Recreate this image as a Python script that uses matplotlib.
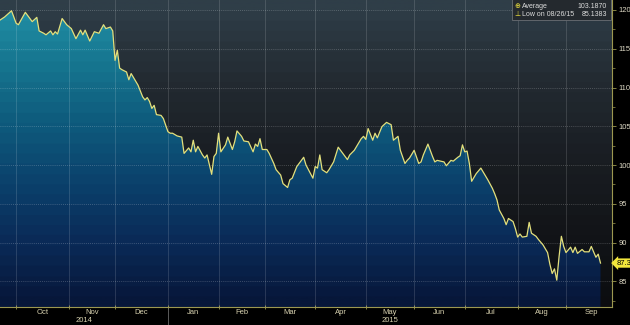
import numpy as np
import matplotlib
matplotlib.use('Agg')
import matplotlib.pyplot as plt
import matplotlib.transforms as mtransforms
from matplotlib.colors import LinearSegmentedColormap

plt.rcParams['font.family'] = ['Liberation Sans', 'DejaVu Sans']

# trading sessions counted from the first session shown (2014-09-22)
first_session = '2014-09-22'
session = [0, 2, 5, 7, 8, 11, 13, 14, 16, 17, 19, 20, 22, 23, 24, 25, 27, 29, 31, 33,
           35, 36, 37, 39, 41, 43, 45, 46, 48, 49, 50, 51, 52, 53, 55, 56, 57, 59, 60, 62,
           63, 64, 65, 66, 67, 68, 70, 71, 73, 74, 75, 77, 79, 80, 82, 83, 84, 85, 86, 88,
           89, 90, 92, 93, 94, 95, 96, 98, 99, 101, 102, 103, 105, 106, 108, 110, 111, 112, 113, 114,
           116, 117, 119, 120, 122, 123, 125, 126, 127, 129, 130, 132, 133, 136, 137, 138, 139, 140, 142, 143,
           145, 147, 149, 151, 152, 154, 157, 158, 159, 160, 162, 163, 164, 166, 168, 170, 171, 173, 174, 176,
           177, 178, 180, 182, 183, 184, 186, 188, 189, 190, 193, 194, 196, 197, 199, 200, 201, 202, 203, 204,
           205, 207, 209, 210, 212, 214, 215, 216, 217, 219, 220, 221, 223, 224, 225, 226, 227, 229, 230, 231,
           233, 234, 236, 238, 239, 240, 241, 242, 243, 244, 245, 246, 248, 249, 250, 251, 253, 254, 256, 257,
           258, 259, 260, 261]
price = [118.7, 119.1, 119.9, 118.3, 118.1, 119.7, 118.9, 118.5, 119.05, 117.3, 117.0, 116.8, 117.3, 116.8, 117.2, 116.9, 118.9, 118.1, 117.6, 116.3,
         117.4, 116.8, 117.4, 116.0, 117.2, 117.0, 118.1, 117.6, 117.8, 117.3, 113.5, 114.8, 112.5, 112.3, 112.0, 111.0, 111.8, 110.8, 110.3, 108.8,
         108.4, 108.7, 108.2, 107.3, 107.7, 106.5, 106.4, 106.0, 104.3, 104.1, 104.1, 103.75, 103.6, 101.5, 102.2, 101.7, 103.2, 101.7, 102.4, 101.3,
         100.9, 101.3, 98.8, 101.1, 101.5, 104.1, 101.7, 102.6, 103.6, 102.0, 103.0, 104.4, 103.7, 103.1, 103.0, 101.7, 102.7, 102.4, 103.4, 102.0,
         102.0, 101.5, 100.2, 99.4, 98.7, 97.6, 97.1, 98.1, 98.3, 99.8, 100.2, 101.0, 100.0, 98.3, 99.8, 99.6, 101.3, 99.4, 99.0, 99.4,
         100.4, 102.3, 101.5, 100.7, 101.3, 101.9, 103.4, 103.7, 103.3, 104.7, 103.2, 104.1, 103.5, 104.95, 105.5, 105.2, 103.2, 103.7, 101.9, 100.2,
         100.6, 100.9, 101.9, 100.2, 100.4, 101.3, 102.7, 101.1, 100.4, 100.6, 100.4, 99.9, 100.6, 100.5, 101.0, 101.2, 102.6, 101.7, 101.8, 100.2,
         97.9, 98.9, 99.6, 99.1, 98.1, 97.0, 96.3, 95.5, 94.2, 93.1, 92.3, 93.1, 92.7, 91.8, 90.7, 91.1, 90.7, 90.8, 92.6, 91.2,
         90.8, 90.4, 89.7, 88.7, 87.2, 86.0, 86.6, 85.14, 88.2, 90.8, 89.5, 88.7, 89.4, 88.7, 89.4, 88.6, 89.1, 88.8, 88.8, 89.5,
         88.8, 88.1, 88.5, 87.35]

month_starts = ['2014-10-01', '2014-11-01', '2014-12-01', '2015-01-01', '2015-02-01', '2015-03-01',
                '2015-04-01', '2015-05-01', '2015-06-01', '2015-07-01', '2015-08-01', '2015-09-01',
                '2015-10-01']
month_names = ['Oct', 'Nov', 'Dec', 'Jan', 'Feb', 'Mar', 'Apr', 'May', 'Jun', 'Jul', 'Aug', 'Sep']
year_names = ['2014', '2015']
y_ticks = [85, 90, 95, 100, 105, 110, 115, 120]

legend_rows = [('High on 09/29/14', '119.9250'), ('Average', '103.1870'), ('Low on 08/26/15', '85.1383')]
last_value = '87.3500'


def banded(colors, n):
    cmap = LinearSegmentedColormap.from_list('g', colors)
    steps = np.floor(np.linspace(0, 1, 400) * n) / (n - 1)
    return cmap(np.clip(steps, 0, 1))[:, None, :3]


def main():
    x = np.array(session)
    y = np.array(price)
    xmin, xmax = 0, 266
    ymin, ymax = 81.68, 121.29

    fig = plt.figure(figsize=(6.3, 3.25), dpi=100, facecolor='black')
    ax = fig.add_axes([0, 18 / 325, 612 / 630, 307 / 325])
    ax.set_xlim(xmin, xmax)
    ax.set_ylim(ymin, ymax)

    # background above the curve
    bg = banded(['#2f3e48', '#232b32', '#1a1e23', '#131519', '#0c0d10'], 30)
    ax.imshow(bg, aspect='auto', extent=(xmin, xmax, ymin, ymax), origin='upper', zorder=0)

    # gradient fill below the curve
    fill = ax.fill_between(x, y, ymin, facecolor='none', edgecolor='none', zorder=1)
    grad = banded(['#2190a6', '#16758f', '#0e5a7c', '#0b416c', '#0a2a57', '#07173a'], 30)
    im = ax.imshow(grad, aspect='auto', extent=(xmin, xmax, ymin, ymax), origin='upper', zorder=1)
    im.set_clip_path(fill.get_paths()[0], transform=ax.transData)

    # grid
    month_idx = [int(np.busday_count(first_session, d)) for d in month_starts]
    for m in month_idx[:-1]:
        ax.axvline(m, color='white', alpha=0.16, lw=0.6, zorder=2)
    for t in y_ticks:
        ax.axhline(t, color='white', alpha=0.28, lw=0.6, ls=(0, (1, 1.5)), zorder=2)

    ax.plot(x, y, color='#e4e07c', lw=0.9, zorder=3)

    for s in ['left', 'top']:
        ax.spines[s].set_visible(False)
    for s in ['right', 'bottom']:
        ax.spines[s].set_color('#9c9850')
        ax.spines[s].set_linewidth(0.8)

    ax.yaxis.tick_right()
    ax.set_yticks(y_ticks)
    ax.set_yticks(np.arange(82.5, 121, 2.5), minor=True)
    ax.tick_params(axis='y', which='major', colors='#9c9850', labelcolor='#ddd8c4',
                   labelsize=5.5, length=3, width=0.6, pad=1.5)
    ax.tick_params(axis='y', which='minor', colors='#9c9850', length=2, width=0.5)

    ax.set_xticks(month_idx[:-1])
    ax.set_xticklabels([])
    mids = [(a + b) / 2 for a, b in zip(month_idx[:-1], month_idx[1:])]
    ax.set_xticks(mids, minor=True)
    ax.set_xticklabels(month_names, minor=True)
    ax.tick_params(axis='x', which='major', colors='#9c9850', length=2.5, width=0.6, direction='inout')
    ax.tick_params(axis='x', which='minor', length=0, labelcolor='#d8d2b0', labelsize=5.5, pad=1.5)

    # year labels and separator
    jan = month_idx[3]
    trans = mtransforms.blended_transform_factory(ax.transData, fig.transFigure)
    ax.text(jan / 2, 1 / 325, year_names[0], transform=trans, ha='center', va='bottom',
            fontsize=5.5, color='#d8d2b0')
    ax.text((jan + xmax) / 2, 1 / 325, year_names[1], transform=trans, ha='center', va='bottom',
            fontsize=5.5, color='#d8d2b0')
    ax.plot([jan, jan], [0, 18 / 325], transform=trans, color='#6a6a6a', lw=0.6, clip_on=False)

    # last value tag
    ax.annotate(last_value, xy=(1.0, price[-1]), xycoords=('axes fraction', 'data'),
                xytext=(3, 0), textcoords='offset points', ha='left', va='center',
                fontsize=5.5, color='black',
                bbox=dict(boxstyle='larrow,pad=0.15', fc='#f2e63c', ec='none'))

    # legend box
    fig.patches.append(plt.Rectangle((512 / 630, 1 - 20 / 325), 99 / 630, 30 / 325,
                                     transform=fig.transFigure, fc='#24292e', ec='#6a6f74',
                                     lw=0.6, zorder=5))
    row_y = [-3, 6, 14.5]
    marks = ['\u2191', '\u2295', '\u22a5']
    for (label, value), yy, mk in zip(legend_rows, row_y, marks):
        fy = 1 - yy / 325
        fig.text(517 / 630, fy, mk, color='#f2e63c', fontsize=5, ha='center', va='center',
                 family='DejaVu Sans', zorder=6)
        fig.text(522 / 630, fy, label, color='#dcdcdc', fontsize=5, ha='left', va='center', zorder=6)
        fig.text(607 / 630, fy, value, color='#dcdcdc', fontsize=5, ha='right', va='center', zorder=6)

    fig.savefig('out.png', dpi=100, facecolor='black')


if __name__ == '__main__':
    main()
